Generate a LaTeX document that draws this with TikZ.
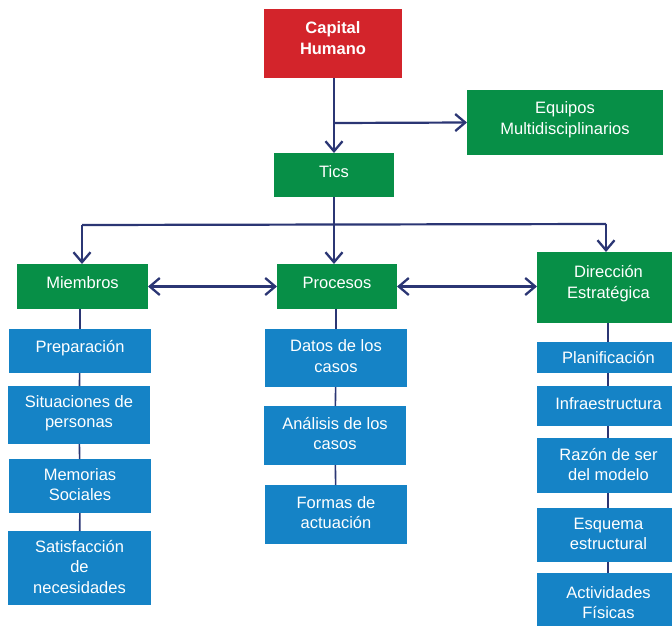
\documentclass[tikz,border=0pt]{standalone}
\usepackage{fontspec}
\setmainfont{Liberation Sans}
\usetikzlibrary{arrows.meta}
\definecolor{navy}{HTML}{2B3674}
\definecolor{bgreen}{HTML}{078F47}
\definecolor{bblue}{HTML}{1583C6}
\definecolor{bred}{HTML}{D3242B}
\newcommand\mkbox[8]{%
  \node[#1, minimum width={#5pt-#3pt}, minimum height={#6pt-#4pt}] (#2) at ({(#3+#5)/2},{(#4+#6)/2}) {};
  \node[boxtext, #1text, yshift=#8] (#2t) at (#2.center) {#7};}
\tikzset{
  box/.style={inner sep=0pt, outer sep=0pt},
  boxtext/.style={inner sep=0pt, text=white, align=center,
    font=\fontsize{16.5}{20.5}\selectfont},
  gbox/.style={box, fill=bgreen},
  bbox/.style={box, fill=bblue},
  rbox/.style={box, fill=bred},
  gboxtext/.style={},
  bboxtext/.style={},
  rboxtext/.style={font=\fontsize{16.5}{21}\selectfont\bfseries},
  tip/.tip={Straight Barb[length=10pt,width=17pt,line width=2.3pt]},
  arr/.style={draw=navy, line width=2.2pt, -tip},
  darr/.style={draw=navy, line width=2.2pt, tip-tip},
  link/.style={draw=navy, line width=1.6pt}
}
\begin{document}
\begin{tikzpicture}[x=1pt,y=-1pt]
\useasboundingbox (0,0) rectangle (672,625);
\clip (0,0) rectangle (672,625);
\mkbox{rbox}{cap}{264}{9}{402}{78}{Capital\\Humano}{5pt}
\mkbox{gbox}{eq}{467}{90}{663}{155}{Equipos\\Multidisciplinarios}{3pt}
\mkbox{gbox}{tics}{274}{153}{394}{197}{Tics}{3pt}
\mkbox{gbox}{mie}{17}{264}{148}{309}{Miembros}{3.5pt}
\mkbox{gbox}{pro}{277}{264}{397}{309}{Procesos}{3.5pt}
\mkbox{gbox}{dir}{537}{252}{680}{323}{Dirección\\Estratégica}{4pt}
% left column
\mkbox{bbox}{m1}{9}{329}{151}{373}{Preparación}{2.5pt}
\mkbox{bbox}{m2}{8}{386}{150}{444}{Situaciones de\\personas}{2pt}
\mkbox{bbox}{m3}{9}{459}{151}{513}{Memorias\\Sociales}{1.5pt}
\mkbox{bbox}{m4}{8}{531}{151}{605}{Satisfacción\\de\\necesidades}{1.5pt}
% middle column
\mkbox{bbox}{p1}{265}{329}{407}{387}{Datos de los\\casos}{2pt}
\mkbox{bbox}{p2}{264}{406}{406}{465}{Análisis de los\\casos}{2pt}
\mkbox{bbox}{p3}{265}{485}{407}{544}{Formas de\\actuación}{2pt}
% right column
\mkbox{bbox}{d1}{537}{342}{680}{373}{Planificación}{0pt}
\mkbox{bbox}{d2}{537}{386}{680}{426}{Infraestructura}{2pt}
\mkbox{bbox}{d3}{537}{438}{680}{493}{Razón de ser\\del modelo}{1pt}
\mkbox{bbox}{d4}{537}{508}{680}{562}{Esquema\\estructural}{1pt}
\mkbox{bbox}{d5}{537}{573}{680}{632}{Actividades\\Físicas}{0pt}
% connectors
\coordinate (br) at (334,123);
\coordinate (hl) at (82,225);
\coordinate (hr) at (606,224);
\draw[arr] (cap.south -| br) -- (tics.north -| br);
\draw[arr] (br) -- (eq.west);
\draw[link, line width=2.2pt] (hl) -- (hr);
\draw[arr] (tics.south -| br) -- (pro.north -| br);
\draw[arr] (hl) -- (mie.north -| hl);
\draw[arr] (hr) -- (dir.north -| hr);
\draw[darr] (mie.east) -- (pro.west);
\draw[darr] (pro.east) -- (pro.east -| dir.west);
% stacks
\draw[link] (mie.south -| m1.north) -- (m1.north);
\draw[link] (m1) -- (m2);
\draw[link] (m2) -- (m3);
\draw[link] (m3) -- (m4);
\draw[link] (pro.south -| p1.north) -- (p1.north);
\draw[link] (p1) -- (p2);
\draw[link] (p2) -- (p3);
\coordinate (dx) at (608,0);
\draw[link] (dir.south -| dx) -- (d1.north -| dx);
\draw[link] (d1.south -| dx) -- (d2.north -| dx);
\draw[link] (d2.south -| dx) -- (d3.north -| dx);
\draw[link] (d3.south -| dx) -- (d4.north -| dx);
\draw[link] (d4.south -| dx) -- (d5.north -| dx);
\end{tikzpicture}
\end{document}
